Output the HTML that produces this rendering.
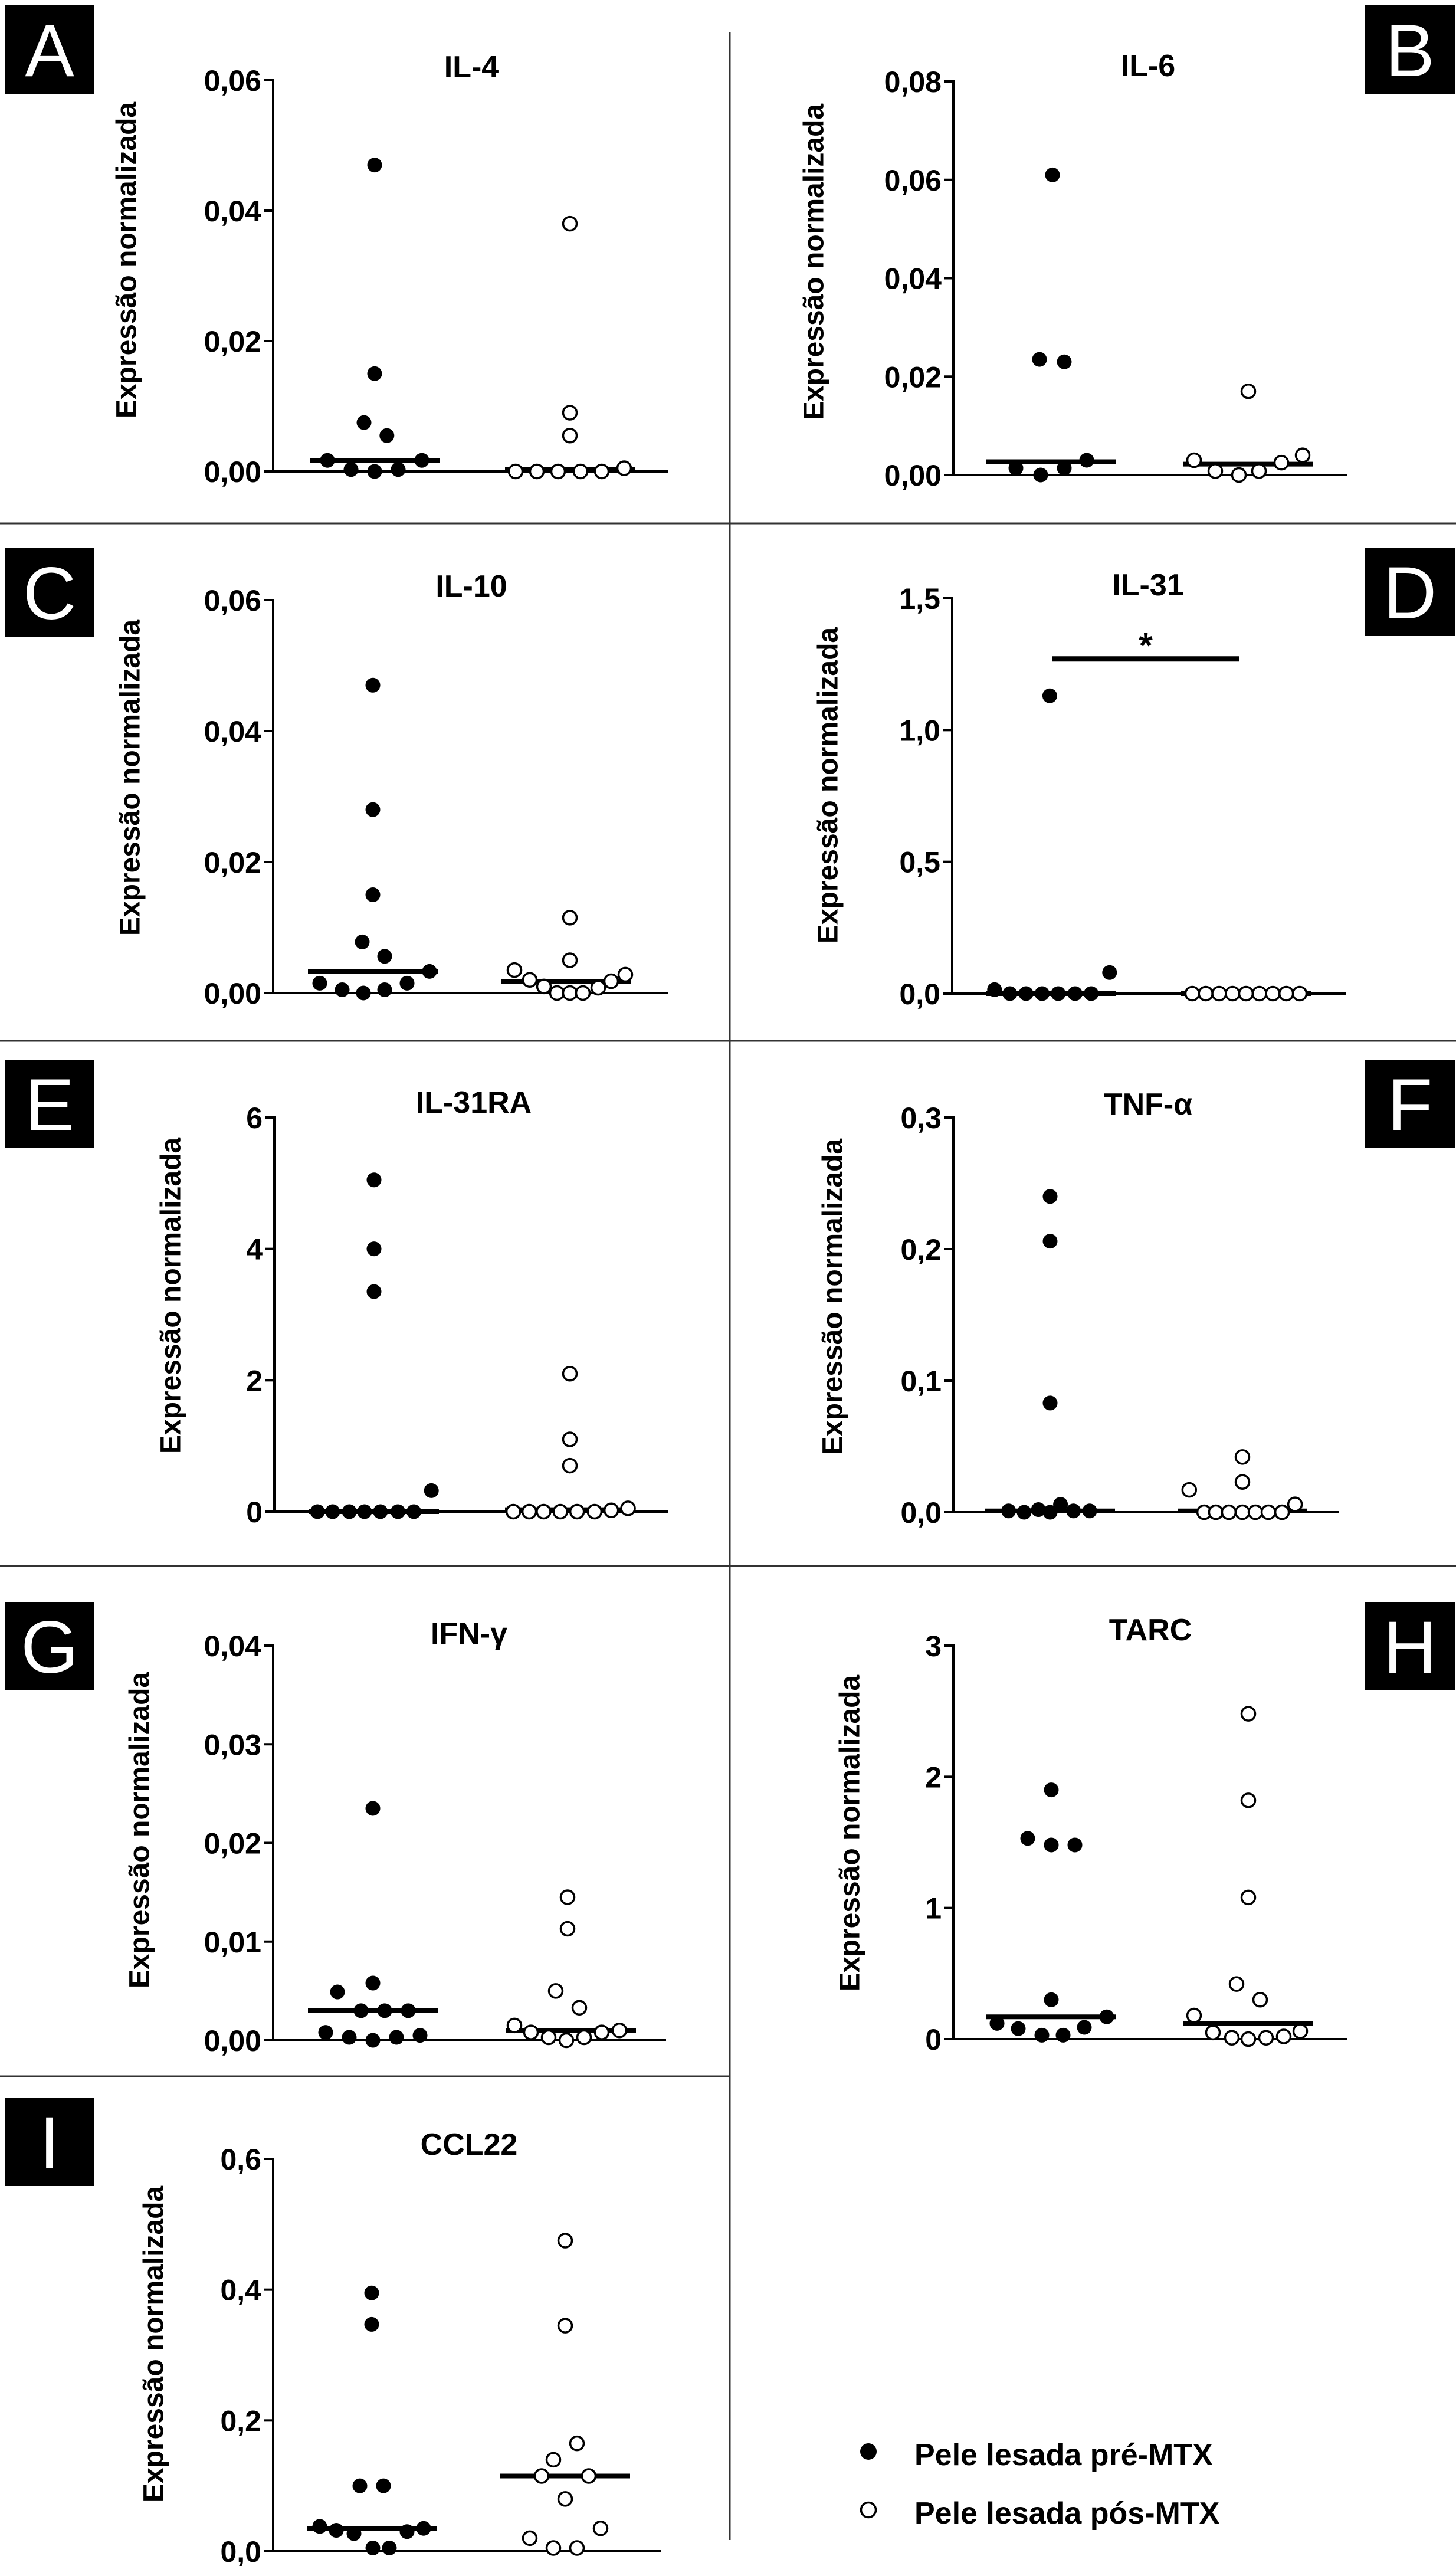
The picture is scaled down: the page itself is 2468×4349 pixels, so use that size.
<!DOCTYPE html>
<html><head><meta charset="utf-8"><style>
html,body{margin:0;padding:0;background:#fff}
svg{display:block}
text{font-family:"Liberation Sans",Arial,sans-serif}
</style></head><body>
<svg id="fig" width="2468" height="4349" viewBox="0 0 2468 4349" xmlns="http://www.w3.org/2000/svg">
<g stroke="#333" stroke-width="3">
<line x1="1237" y1="55" x2="1237" y2="4305"/>
<line x1="0" y1="887" x2="2468" y2="887"/>
<line x1="0" y1="1764" x2="2468" y2="1764"/>
<line x1="0" y1="2654" x2="2468" y2="2654"/>
<line x1="0" y1="3519" x2="1237" y2="3519"/>
</g>
<g>
<circle cx="1472" cy="4155" r="14" fill="#000"/>
<text x="1550" y="4178" font-size="52" font-weight="bold">Pele lesada pré-MTX</text>
<circle cx="1472" cy="4254" r="12.5" fill="#fff" stroke="#000" stroke-width="3.5"/>
<text x="1550" y="4277" font-size="52" font-weight="bold">Pele lesada pós-MTX</text>
</g>
</svg>
<script>
// ---- data ----
const panelLetters = ["A","B","C","D","E","F","G","H","I"];
const panelTitles = ["IL-4","IL-6","IL-10","IL-31","IL-31RA","TNF-α","IFN-γ","TARC","CCL22"];
const axisMax = [0.06,0.08,0.06,1.5,6,0.3,0.04,3,0.6];
const tickStep = [0.02,0.02,0.02,0.5,2,0.1,0.01,1,0.2];
const tickDecimals = [2,2,2,1,0,1,2,0,1];

const preA = [0.0017,0.0003,0,0.0003,0.0017,0.047,0.015,0.0075,0.0055];
const postA = [0,0,0,0,0,0.0005,0.038,0.009,0.0055];
const preB = [0.0014,0,0.0014,0.003,0.061,0.0235,0.023];
const postB = [0.003,0.0008,0,0.0008,0.0025,0.004,0.017];
const preC = [0.0015,0.0005,0,0.0005,0.0015,0.0033,0.047,0.028,0.015,0.0078,0.0056];
const postC = [0.0035,0.002,0.001,0,0,0,0.0008,0.0018,0.0028,0.0115,0.005];
const preD = [0.015,0,0,0,0,0,0,1.13,0.08];
const postD = [0,0,0,0,0,0,0,0,0];
const preE = [0,0,0,0,0,0,0,0.32,5.05,4.0,3.35];
const postE = [0,0,0,0,0,0,0.02,0.05,2.1,1.1,0.7];
const preF = [0.001,0,0.002,0,0.006,0.001,0.001,0.24,0.206,0.083];
const postF = [0.017,0,0,0,0,0,0,0,0.006,0.042,0.023];
const preG = [0.0008,0.0003,0,0.0003,0.0005,0.003,0.003,0.003,0.0049,0.0058,0.0235];
const postG = [0.0015,0.0008,0.0003,0,0.0003,0.0008,0.001,0.005,0.0033,0.0145,0.0113];
const preH = [0.12,0.08,0.03,0.03,0.09,0.17,0.3,1.53,1.48,1.48,1.9];
const postH = [0.18,0.05,0.01,0,0.01,0.02,0.06,0.42,0.3,1.08,1.82,2.48];
const preI = [0.038,0.032,0.027,0.005,0.005,0.03,0.035,0.1,0.1,0.395,0.347];
const postI = [0.02,0.005,0.005,0.035,0.08,0.115,0.115,0.14,0.165,0.345,0.475];

const preMedians = [0.0017,0.0027,0.0033,0,0,0.001,0.003,0.17,0.035];
const postMedians = [0.0003,0.0022,0.0018,0,0.03,0.001,0.001,0.12,0.115];

// jitter slots (units of dot spacing)
const preSlotsA=[-2,-1,0,1,2,0,0,-0.45,0.52];
const postSlotsA=[-2.3,-1.4,-0.5,0.45,1.35,2.3,0,0,0];
const preSlotsB=[-1.5,-0.45,0.55,1.5,0.05,-0.5,0.55];
const postSlotsB=[-2.3,-1.4,-0.4,0.45,1.4,2.3,0];
const preSlotsC=[-2.25,-1.3,-0.4,0.5,1.45,2.4,0,0,0,-0.45,0.5];
const postSlotsC=[-2.2,-1.55,-0.95,-0.4,0.15,0.7,1.35,1.9,2.5,0.15,0.15];
const preSlotsD=[-3.7,-2.7,-1.65,-0.6,0.45,1.55,2.6,-0.1,3.8];
const postSlotsD=[-3.5,-2.625,-1.75,-0.875,0,0.875,1.75,2.625,3.5];
const preSlotsE=[-3.55,-2.6,-1.55,-0.6,0.4,1.5,2.5,3.6,0,0,0];
const postSlotsE=[-3.55,-2.55,-1.65,-0.6,0.45,1.55,2.6,3.65,0,0,0];
const preSlotsF=[-3.2,-2,-0.9,0,0.8,1.8,3.05,0,0,0];
const postSlotsF=[-4.1,-2.95,-2.05,-1.05,0,1,2,3.05,4.05,0,0];
const preSlotsG=[-2,-1,0,1,2,-0.5,0.5,1.5,-1.5,0,0];
const postSlotsG=[-2.4,-1.7,-0.95,-0.2,0.55,1.3,2.05,-0.65,0.35,-0.15,-0.15];
const preSlotsH=[-2.3,-1.4,-0.4,0.5,1.4,2.35,0,-1,0,1,0];
const postSlotsH=[-2.3,-1.5,-0.7,0,0.75,1.5,2.2,-0.5,0.5,0,0,0];
const preSlotsI=[-2.2,-1.5,-0.75,0.05,0.75,1.5,2.2,-0.5,0.5,0,0];
const postSlotsI=[-1.5,-0.5,0.5,1.5,0,-1,1,-0.5,0.5,0,0];

const sigPanelIndex = 3; const sigValue = 1.27;

// ---- layout ----
const L = [
 {ax:463,y0:799,top:136,xe:1133,c1:635,c2:966,slot:40,tx:799,ty:112,lx:215,ly:441,bx:8,by:9},
 {ax:1616,y0:805,top:138,xe:2284,c1:1782,c2:2116,slot:40,tx:1946,ty:110,lx:1380,ly:444,bx:2314,by:9},
 {ax:463,y0:1683,top:1017,xe:1133,c1:632,c2:960,slot:40,tx:799,ty:992,lx:221,ly:1318,bx:8,by:929},
 {ax:1614,y0:1684,top:1014,xe:2282,c1:1782,c2:2112,slot:26,tx:1946,ty:990,lx:1404,ly:1331,bx:2314,by:928},
 {ax:465,y0:2562,top:1894,xe:1133,c1:634,c2:966,slot:27,tx:803,ty:1867,lx:290,ly:2196,bx:8,by:1796},
 {ax:1616,y0:2563,top:1894,xe:2270,c1:1780,c2:2106,slot:22,tx:1946,ty:1870,lx:1412,ly:2198,bx:2314,by:1796},
 {ax:463,y0:3458,top:2789,xe:1129,c1:632,c2:968,slot:40,tx:795,ty:2767,lx:237,ly:3102,bx:8,by:2715},
 {ax:1616,y0:3456,top:2789,xe:2284,c1:1782,c2:2116,slot:40,tx:1950,ty:2761,lx:1441,ly:3107,bx:2314,by:2715},
 {ax:463,y0:4324,top:3659,xe:1121,c1:630,c2:958,slot:40,tx:795,ty:3633,lx:261,ly:3973,bx:8,by:3555}
];
const PRE=[preA,preB,preC,preD,preE,preF,preG,preH,preI];
const POST=[postA,postB,postC,postD,postE,postF,postG,postH,postI];
const PRES=[preSlotsA,preSlotsB,preSlotsC,preSlotsD,preSlotsE,preSlotsF,preSlotsG,preSlotsH,preSlotsI];
const POSTS=[postSlotsA,postSlotsB,postSlotsC,postSlotsD,postSlotsE,postSlotsF,postSlotsG,postSlotsH,postSlotsI];

const NS="http://www.w3.org/2000/svg";
const svg=document.getElementById('fig');
function mk(tag,attrs,parent){const e=document.createElementNS(NS,tag);for(const k in attrs)e.setAttribute(k,attrs[k]);(parent||svg).appendChild(e);return e;}

panelLetters.forEach((letter,i)=>{
  const l=L[i];
  const yScale=v=>l.y0-(v/axisMax[i])*(l.y0-l.top);
  const g=mk('g',{});
  
  
  const rect=mk('rect',{x:l.bx,y:l.by,width:152,height:150,fill:'#000'},g);
  
  
  const lt=mk('text',{x:l.bx+76,y:l.by+120,'font-size':125,fill:'#fff','text-anchor':'middle'},g);
  
  
  lt.textContent=letter;
  const t=mk('text',{x:l.tx,y:l.ty+19,'font-size':52,'font-weight':'bold','text-anchor':'middle'},g);
  
  
  t.textContent=panelTitles[i];
  const yl=mk('text',{transform:`translate(${l.lx},${l.ly}) rotate(-90)`,'font-size':48,'font-weight':'bold','text-anchor':'middle','dominant-baseline':'central'},g);
  
  
  yl.textContent='Expressão normalizada';
  const ya=mk('line',{x1:l.ax,y1:l.top-2,x2:l.ax,y2:l.y0,stroke:'#000','stroke-width':4},g);
  
  
  const xa=mk('line',{x1:l.ax-16,y1:l.y0,x2:l.xe,y2:l.y0,stroke:'#000','stroke-width':4},g);
  
  
  const n=Math.round(axisMax[i]/tickStep[i]);
  for(let k=0;k<=n;k++){
    const v=k*tickStep[i]; const y=yScale(v);
    const tk=mk('line',{x1:l.ax-16,y1:y,x2:l.ax,y2:y,stroke:'#000','stroke-width':4},g);
    
    
    const tl=mk('text',{x:l.ax-20,y:y+18,'font-size':50,'font-weight':'bold','text-anchor':'end'},g);
    
    
    tl.textContent=v.toFixed(tickDecimals[i]).replace('.',',');
  }
  const m1=mk('line',{x1:l.c1-110,y1:yScale(preMedians[i]),x2:l.c1+110,y2:yScale(preMedians[i]),stroke:'#000','stroke-width':8},g);
  
  
  const m2=mk('line',{x1:l.c2-110,y1:yScale(postMedians[i]),x2:l.c2+110,y2:yScale(postMedians[i]),stroke:'#000','stroke-width':8},g);
  
  
  PRE[i].forEach((v,j)=>{
    const c=mk('circle',{cx:l.c1+PRES[i][j]*l.slot,cy:yScale(v),r:12.5,fill:'#000'},g);
    
    
  });
  POST[i].forEach((v,j)=>{
    const c=mk('circle',{cx:l.c2+POSTS[i][j]*l.slot,cy:yScale(v),r:11.5,fill:'#fff',stroke:'#000','stroke-width':3.5},g);
    
    
  });
  if(i===sigPanelIndex){
    const sy=yScale(sigValue);
    const sb=mk('line',{x1:1784,y1:sy,x2:2100,y2:sy,stroke:'#000','stroke-width':9},g);
    
    
    const st=mk('text',{x:1942,y:sy-2,'font-size':60,'font-weight':'bold','text-anchor':'middle'},g);
    
    
    st.textContent='*';
  }
});
</script>
</body></html>
